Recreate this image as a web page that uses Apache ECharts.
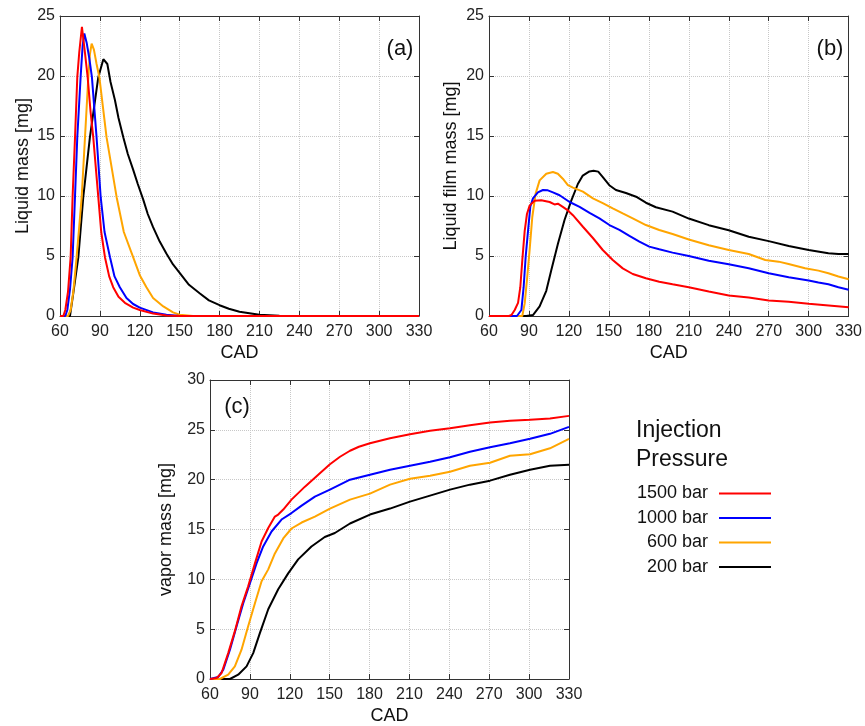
<!DOCTYPE html>
<html>
<head>
<meta charset="utf-8">
<script src="https://cdn.jsdelivr.net/npm/echarts@6/dist/echarts.min.js"></script>
<style>
html,body{margin:0;padding:0;background:#fff;}
#chart{width:865px;height:726px;}
</style>
</head>
<body>
<div id="chart"></div>
<script>
// ---------- data ----------
const seriesNames = ['1500 bar', '1000 bar', '600 bar', '200 bar'];
const xTicks = [60, 90, 120, 150, 180, 210, 240, 270, 300, 330];

// (a) Liquid mass
const a1500X = [60, 62.5, 64, 66, 68, 69.5, 71.3, 73, 74.5, 76.5, 78.8, 80.8, 83, 85, 88.8, 91, 93.8, 97, 100, 104, 108.8, 115, 120, 130, 140, 150, 330];
const a1500Y = [0, 0, 0.5, 2, 4.9, 10, 14.9, 19.9, 22, 24.1, 21.9, 19.9, 17, 14.9, 9.9, 7, 4.9, 3.3, 2.4, 1.6, 1.1, 0.7, 0.5, 0.2, 0.05, 0, 0];
const a1000X = [60, 64, 65.5, 67.5, 69.5, 71.3, 73, 75.5, 77, 78.3, 80, 82, 84, 87.5, 90.6, 93.5, 97.6, 101, 105, 110, 115, 120, 130, 140, 150, 330];
const a1000Y = [0, 0, 0.5, 2.2, 4.9, 10, 14.9, 19.9, 22.5, 23.55, 22.8, 21.5, 19.9, 14.9, 9.9, 7, 4.9, 3.3, 2.4, 1.5, 1.0, 0.7, 0.3, 0.1, 0, 0];
const a600X = [60, 66, 68, 70, 72.5, 74.5, 76.3, 78.8, 81.3, 82.5, 83.8, 85.5, 87.5, 89.6, 95, 102.6, 108, 115, 120, 125, 130, 137.7, 145, 150, 160, 330];
const a600Y = [0, 0, 0.5, 2, 4.9, 7.5, 9.9, 14.9, 19.9, 21.8, 22.7, 22.2, 21, 19.9, 14.9, 9.9, 7, 4.9, 3.4, 2.4, 1.5, 0.8, 0.3, 0.1, 0, 0];
const a200X = [60, 67.5, 70, 73.8, 77.5, 82.5, 88.8, 92.6, 95.6, 98, 101.3, 104, 107.6, 111, 115, 118.5, 122.6, 126, 130, 135, 140, 145, 150, 157, 165, 172, 180, 187, 195, 210, 225, 240, 330];
const a200Y = [0, 0, 1.9, 4.9, 9.9, 14.9, 19.9, 21.4, 21, 19.5, 18, 16.5, 14.9, 13.5, 12.2, 11, 9.7, 8.5, 7.4, 6.2, 5.2, 4.3, 3.6, 2.6, 1.9, 1.3, 0.9, 0.6, 0.36, 0.1, 0.03, 0, 0];

// (b) Liquid film mass
const b1500X = [60, 75, 77, 79.3, 81.8, 83.5, 85, 86.8, 88.5, 90.5, 94.2, 99.2, 105.5, 109.2, 111.7, 115.4, 119.2, 123, 130.5, 138, 145.4, 152.9, 160.4, 167.9, 177.8, 187.8, 197.8, 210, 225, 240, 255, 270, 285, 300, 315, 330];
const b1500Y = [0, 0, 0.1, 0.5, 1.1, 2.4, 4.65, 7.1, 8.5, 9.2, 9.6, 9.65, 9.5, 9.3, 9.36, 9.09, 8.8, 8.4, 7.44, 6.5, 5.5, 4.67, 3.97, 3.5, 3.14, 2.86, 2.64, 2.4, 2.04, 1.71, 1.55, 1.3, 1.19, 1.02, 0.88, 0.72];
const b1000X = [60, 81, 84.3, 86, 87.5, 89.3, 91, 93, 96.7, 100.5, 104.2, 108, 113, 120.5, 128, 135.5, 142.9, 150.4, 157.9, 165.4, 172.9, 180.3, 187.8, 197.8, 210, 225, 240, 255, 270, 285, 300, 307.3, 314.8, 322.3, 330];
const b1000Y = [0, 0, 0.5, 2.4, 4.9, 7.1, 9.1, 9.8, 10.3, 10.5, 10.47, 10.3, 10.06, 9.5, 9.1, 8.6, 8.14, 7.58, 7.17, 6.67, 6.2, 5.78, 5.56, 5.28, 5.0, 4.61, 4.31, 3.98, 3.56, 3.23, 2.96, 2.79, 2.65, 2.4, 2.18];
const b600X = [60, 85, 86.8, 88.5, 90.5, 92.5, 95, 98, 103, 108, 111.7, 115.4, 119.2, 123, 130.5, 138, 145.4, 152.9, 160.4, 167.9, 177.8, 187.8, 197.8, 210, 225, 240, 255, 267.4, 277.4, 284.9, 297.3, 307.3, 314.8, 322.3, 330];
const b600Y = [0, 0, 1.05, 3.0, 5.5, 8.25, 10.2, 11.3, 11.86, 12.0, 11.86, 11.44, 10.9, 10.7, 10.36, 9.8, 9.4, 8.97, 8.55, 8.14, 7.58, 7.17, 6.83, 6.38, 5.9, 5.5, 5.17, 4.67, 4.53, 4.34, 3.98, 3.78, 3.56, 3.29, 3.07];
const b200X = [60, 88, 93, 98, 103, 106.7, 111.7, 116.7, 121.7, 126.7, 130.4, 135.4, 138.5, 142, 145.3, 150.3, 155.3, 162.8, 170.4, 177.8, 185.3, 197.8, 210, 225, 240, 255, 270, 285, 300, 314.8, 322.3, 330];
const b200Y = [0, 0, 0.08, 0.8, 2.1, 3.8, 6.0, 8.0, 9.6, 11.0, 11.7, 12.05, 12.1, 12.03, 11.6, 10.9, 10.5, 10.25, 9.94, 9.44, 9.06, 8.7, 8.12, 7.57, 7.15, 6.6, 6.24, 5.83, 5.5, 5.22, 5.17, 5.17];

// (c) vapor mass
const c1500X = [60, 65, 68.7, 73.7, 78.7, 83.7, 88.7, 93.8, 98.8, 103.8, 108.8, 111.3, 115.1, 121.3, 131.4, 141.4, 150.2, 157.8, 165.3, 172, 180.3, 195.4, 210.4, 225.5, 240.5, 255.5, 270.6, 285.6, 300.7, 315.7, 330];
const c1500Y = [0, 0.1, 0.6, 2.6, 4.8, 7.3, 9.3, 11.6, 13.8, 15.15, 16.3, 16.5, 17.0, 18.0, 19.3, 20.5, 21.55, 22.3, 22.9, 23.3, 23.65, 24.15, 24.56, 24.9, 25.16, 25.46, 25.73, 25.9, 26.0, 26.13, 26.4];
const c1000X = [60, 66.2, 70, 75, 80, 85, 90, 95, 100, 106.3, 113.8, 121.3, 128.9, 138.9, 150.2, 165.3, 180.3, 195.4, 210.4, 225.5, 240.5, 255.5, 270.6, 285.6, 300.7, 315.7, 330];
const c1000Y = [0, 0.2, 0.94, 2.94, 5.3, 7.6, 9.6, 11.6, 13.3, 14.8, 16.0, 16.65, 17.4, 18.3, 19.0, 20.0, 20.5, 21.0, 21.4, 21.8, 22.25, 22.8, 23.25, 23.65, 24.1, 24.6, 25.3];
const c600X = [60, 67.4, 73.7, 78.7, 83.7, 88.7, 93.8, 98.8, 103.8, 108.8, 115.1, 121.3, 128.9, 138.9, 150.2, 165.3, 180.3, 195.4, 210.4, 225.5, 240.5, 255.5, 270.6, 285.6, 300.7, 315.7, 330];
const c600Y = [0, 0, 0.43, 1.27, 2.94, 5.3, 7.6, 9.8, 11.0, 12.6, 14.1, 15.1, 15.7, 16.3, 17.1, 18.0, 18.6, 19.5, 20.1, 20.4, 20.8, 21.4, 21.7, 22.4, 22.55, 23.15, 24.1];
const c200X = [60, 75, 81.2, 87.5, 92.5, 97.5, 103.8, 111.3, 118.8, 126.3, 136.3, 146.3, 153.9, 165.3, 180.3, 195.4, 210.4, 225.5, 240.5, 255.5, 270.6, 285.6, 300.7, 315.7, 330];
const c200Y = [0, 0, 0.43, 1.27, 2.6, 4.6, 7.0, 9.0, 10.6, 12.0, 13.3, 14.25, 14.65, 15.6, 16.5, 17.1, 17.8, 18.4, 19.0, 19.5, 19.9, 20.5, 21.0, 21.4, 21.5];

// ---------- chart ----------
const FONT = 'Liberation Sans, Arial, sans-serif';
const COLORS = ['#ff0000', '#0000ff', '#ffa500', '#000000'];
const AXIS_COLOR = '#333';
const pairs = (xs, ys) => xs.map((x, i) => [x, ys[i]]);

function xAxesFor(g) {
  const common = {
    type: 'value', gridIndex: g, min: xTicks[0], max: xTicks[xTicks.length - 1], interval: 30,
    axisLine: { show: true, onZero: false, lineStyle: { color: AXIS_COLOR, width: 1 } },
    axisTick: { show: true, inside: true, length: 5, lineStyle: { color: AXIS_COLOR } }
  };
  return [
    Object.assign({}, common, {
      position: 'bottom', name: 'CAD', nameLocation: 'middle', nameGap: 28,
      nameTextStyle: { fontSize: 18, color: '#111', fontFamily: FONT },
      axisLabel: { fontSize: 16, color: '#222', margin: 8, fontFamily: FONT },
      splitLine: { show: true, lineStyle: { color: '#c8c8c8', type: 'dotted', width: 1 } }
    }),
    Object.assign({}, common, {
      position: 'top', axisLabel: { show: false }, splitLine: { show: false }
    })
  ];
}
function yAxesFor(g, yMax, name, gap) {
  const common = {
    type: 'value', gridIndex: g, min: 0, max: yMax, interval: 5,
    axisLine: { show: true, onZero: false, lineStyle: { color: AXIS_COLOR, width: 1 } },
    axisTick: { show: true, inside: true, length: 5, lineStyle: { color: AXIS_COLOR } }
  };
  return [
    Object.assign({}, common, {
      position: 'left', name: name, nameLocation: 'middle', nameGap: gap,
      nameTextStyle: { fontSize: 18, color: '#111', fontFamily: FONT },
      axisLabel: { fontSize: 16, color: '#222', margin: 5, fontFamily: FONT },
      splitLine: { show: true, lineStyle: { color: '#c8c8c8', type: 'dotted', width: 1 } }
    }),
    Object.assign({}, common, {
      position: 'right', axisLabel: { show: false }, splitLine: { show: false }
    })
  ];
}

const panels = [
  [pairs(a1500X, a1500Y), pairs(a1000X, a1000Y), pairs(a600X, a600Y), pairs(a200X, a200Y)],
  [pairs(b1500X, b1500Y), pairs(b1000X, b1000Y), pairs(b600X, b600Y), pairs(b200X, b200Y)],
  [pairs(c1500X, c1500Y), pairs(c1000X, c1000Y), pairs(c600X, c600Y), pairs(c200X, c200Y)]
];
const series = [];
panels.forEach((p, g) => {
  p.forEach((d, k) => {
    series.push({
      type: 'line', name: seriesNames[k], data: d,
      xAxisIndex: 2 * g, yAxisIndex: 2 * g,
      symbol: 'none', showSymbol: false, smooth: false,
      color: COLORS[k],
      lineStyle: { width: 2, color: COLORS[k] },
      z: 10 - k
    });
  });
});

const option = {
  backgroundColor: '#fff',
  animation: false,
  grid: [
    { left: 60, top: 16, width: 359, height: 300 },
    { left: 489, top: 16, width: 361, height: 300 },
    { left: 210, top: 380, width: 359, height: 299 }
  ],
  xAxis: [].concat(xAxesFor(0), xAxesFor(1), xAxesFor(2)),
  yAxis: [].concat(
    yAxesFor(0, 25, 'Liquid mass [mg]', 28),
    yAxesFor(1, 25, 'Liquid film mass [mg]', 29),
    yAxesFor(2, 30, 'vapor mass [mg]', 35)
  ),
  legend: {
    data: seriesNames, orient: 'vertical', left: 631, top: 478.5,
    align: 'right', icon: 'rect', itemWidth: 52, itemHeight: 2, itemGap: 4.5,
    textStyle: { fontSize: 18, color: '#111', fontFamily: FONT, width: 72, align: 'right', padding: [0, 6, 0, 0], lineHeight: 20 }
  },
  graphic: [
    { type: 'text', x: 400, y: 49, style: { text: '(a)', fontSize: 22, fontFamily: FONT, fill: '#111', align: 'center', verticalAlign: 'middle' } },
    { type: 'text', x: 830, y: 49, style: { text: '(b)', fontSize: 22, fontFamily: FONT, fill: '#111', align: 'center', verticalAlign: 'middle' } },
    { type: 'text', x: 237, y: 407, style: { text: '(c)', fontSize: 22, fontFamily: FONT, fill: '#111', align: 'center', verticalAlign: 'middle' } },
    { type: 'text', x: 636, y: 431, style: { text: 'Injection', fontSize: 23, fontFamily: FONT, fill: '#111', align: 'left', verticalAlign: 'middle' } },
    { type: 'text', x: 636, y: 460, style: { text: 'Pressure', fontSize: 23, fontFamily: FONT, fill: '#111', align: 'left', verticalAlign: 'middle' } }
  ],
  series: series
};

const chart = echarts.init(document.getElementById('chart'), null, { renderer: 'canvas' });
chart.setOption(option);
</script>
</body>
</html>
